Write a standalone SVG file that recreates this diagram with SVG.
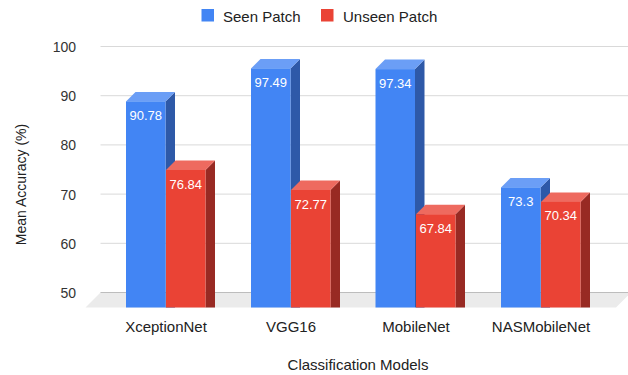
<svg xmlns="http://www.w3.org/2000/svg" width="628" height="375" viewBox="0 0 628 375">
  <style>
    text { font-family: "Liberation Sans", Arial, sans-serif; }
    .legend { font-size: 15px; fill: #222; }
    .tick { font-size: 14px; fill: #333; text-anchor: end; }
    .cat { font-size: 15px; fill: #222; text-anchor: middle; }
    .title { font-size: 15px; fill: #222; text-anchor: middle; }
    .ytitle { font-size: 14px; fill: #222; text-anchor: middle; }
    .val { font-size: 13px; fill: #fff; text-anchor: middle; }
    .grid { stroke: #d9d9d9; stroke-width: 1; }
    .base { stroke: #bdbdbd; stroke-width: 1; }
    .b-front { fill: #4285f4; }
    .b-top { fill: #6b9ef6; }
    .b-side { fill: #2e59a8; }
    .r-front { fill: #ea4335; }
    .r-top { fill: #ee6a5f; }
    .r-side { fill: #982a23; }
  </style>

  <rect width="628" height="375" fill="#fff"/>

  <!-- legend -->
  <g id="legend">
    <rect x="201.5" y="9" width="12.5" height="12.5" class="b-front"/>
    <text x="223" y="21.5" class="legend">Seen Patch</text>
    <rect x="321" y="9" width="12.5" height="12.5" class="r-front"/>
    <text x="343" y="21.5" class="legend">Unseen Patch</text>
  </g>

  <!-- floor and back-wall grid -->
  <g id="plot-frame">
    <polygon points="100.5,292.5 631,292.5 616,307.5 85.5,307.5" fill="#ebebeb"/>
    <line x1="100.5" y1="46.5" x2="628" y2="46.5" class="grid"/>
    <line x1="100.5" y1="95.7" x2="628" y2="95.7" class="grid"/>
    <line x1="100.5" y1="144.9" x2="628" y2="144.9" class="grid"/>
    <line x1="100.5" y1="194.1" x2="628" y2="194.1" class="grid"/>
    <line x1="100.5" y1="243.3" x2="628" y2="243.3" class="grid"/>
    <line x1="100.5" y1="292.5" x2="628" y2="292.5" class="base"/>
  </g>

  <!-- y axis -->
  <g id="y-axis">
    <text x="76" y="52" class="tick">100</text>
    <text x="76" y="101.2" class="tick">90</text>
    <text x="76" y="150.4" class="tick">80</text>
    <text x="76" y="199.6" class="tick">70</text>
    <text x="76" y="248.8" class="tick">60</text>
    <text x="76" y="298" class="tick">50</text>
    <text transform="translate(26,184.5) rotate(-90)" class="ytitle">Mean Accuracy (%)</text>
  </g>

  <!-- bars: front face, top face and side face, depth 9.5 -->
  <g id="group-xceptionnet">
    <polygon class="b-side" points="165.5,101.4 175,91.9 175,307.5 165.5,307.5"/>
    <polygon class="b-top" points="126,101.4 135.5,91.9 175,91.9 165.5,101.4"/>
    <rect class="b-front" x="126" y="101.4" width="39.5" height="206.1"/>
    <text class="val" x="145.75" y="119.9">90.78</text>
    <polygon class="r-side" points="205.5,170 215,160.5 215,307.5 205.5,307.5"/>
    <polygon class="r-top" points="166,170 175.5,160.5 215,160.5 205.5,170"/>
    <rect class="r-front" x="166" y="170" width="39.5" height="137.5"/>
    <text class="val" x="185.75" y="188.5">76.84</text>
  </g>

  <g id="group-vgg16">
    <polygon class="b-side" points="290.5,68.4 300,58.9 300,307.5 290.5,307.5"/>
    <polygon class="b-top" points="251,68.4 260.5,58.9 300,58.9 290.5,68.4"/>
    <rect class="b-front" x="251" y="68.4" width="39.5" height="239.1"/>
    <text class="val" x="270.75" y="86.9">97.49</text>
    <polygon class="r-side" points="330.5,190 340,180.5 340,307.5 330.5,307.5"/>
    <polygon class="r-top" points="291,190 300.5,180.5 340,180.5 330.5,190"/>
    <rect class="r-front" x="291" y="190" width="39.5" height="117.5"/>
    <text class="val" x="310.75" y="208.5">72.77</text>
  </g>

  <g id="group-mobilenet">
    <polygon class="b-side" points="415,69.1 424.5,59.6 424.5,307.5 415,307.5"/>
    <polygon class="b-top" points="375.5,69.1 385,59.6 424.5,59.6 415,69.1"/>
    <rect class="b-front" x="375.5" y="69.1" width="39.5" height="238.4"/>
    <text class="val" x="395.25" y="87.6">97.34</text>
    <polygon class="r-side" points="455.5,214.2 465,204.7 465,307.5 455.5,307.5"/>
    <polygon class="r-top" points="416,214.2 425.5,204.7 465,204.7 455.5,214.2"/>
    <rect class="r-front" x="416" y="214.2" width="39.5" height="93.3"/>
    <text class="val" x="435.75" y="232.7">67.84</text>
  </g>

  <g id="group-nasmobilenet">
    <polygon class="b-side" points="540.5,187.4 550,177.9 550,307.5 540.5,307.5"/>
    <polygon class="b-top" points="501,187.4 510.5,177.9 550,177.9 540.5,187.4"/>
    <rect class="b-front" x="501" y="187.4" width="39.5" height="120.1"/>
    <text class="val" x="520.75" y="205.9">73.3</text>
    <polygon class="r-side" points="580.5,201.9 590,192.4 590,307.5 580.5,307.5"/>
    <polygon class="r-top" points="541,201.9 550.5,192.4 590,192.4 580.5,201.9"/>
    <rect class="r-front" x="541" y="201.9" width="39.5" height="105.6"/>
    <text class="val" x="560.75" y="220.4">70.34</text>
  </g>

  <!-- x axis -->
  <g id="x-axis">
    <text x="166" y="331.5" class="cat">XceptionNet</text>
    <text x="291" y="331.5" class="cat">VGG16</text>
    <text x="416" y="331.5" class="cat">MobileNet</text>
    <text x="541" y="331.5" class="cat">NASMobileNet</text>
    <text x="358" y="370" class="title">Classification Models</text>
  </g>
</svg>
